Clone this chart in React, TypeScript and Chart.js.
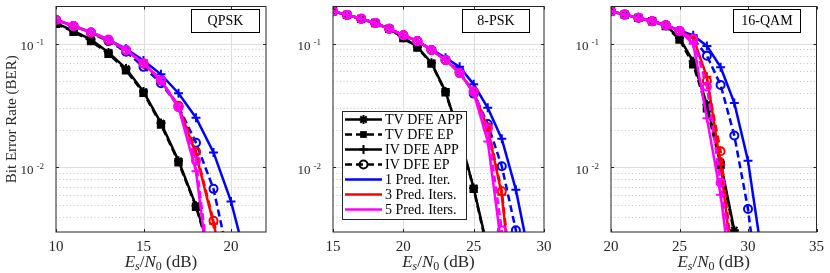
import React, { useEffect, useRef } from 'react';
import { Chart, registerables } from 'chart.js';
Chart.register(...registerables);

const FONT = '"Liberation Serif", "Times New Roman", serif';

// ---------- QPSK ----------
const qpskSnr = [10, 11, 12, 13, 14, 15, 16, 17, 18, 19, 20, 21];
const qpskTvApp = [0.147, 0.127, 0.108, 0.085, 0.063, 0.041, 0.0228, 0.0113, 0.0049, 0.0017, 0.0005];
const qpskTvEp = [0.145, 0.125, 0.105, 0.083, 0.061, 0.04, 0.0222, 0.011, 0.0048, 0.0016, 0.0005];
const qpskIter1App = [0.156, 0.14, 0.124, 0.108, 0.091, 0.073, 0.0565, 0.0398, 0.0252, 0.0132, 0.0053, 0.0015];
const qpskIter1Ep = [0.155, 0.139, 0.122, 0.105, 0.086, 0.065, 0.048, 0.031, 0.0158, 0.0067, 0.0015];
const qpskIter3App = [0.156, 0.139, 0.123, 0.107, 0.089, 0.069, 0.05, 0.031, 0.0128, 0.0035, 0.0009];
const qpskIter3Ep = [0.156, 0.139, 0.123, 0.107, 0.089, 0.069, 0.0505, 0.0315, 0.0134, 0.0037, 0.001];
const qpskIter5App = [0.156, 0.139, 0.124, 0.108, 0.089, 0.0695, 0.0505, 0.0305, 0.0093, 0.0007];
const qpskIter5Ep = [0.156, 0.139, 0.124, 0.108, 0.089, 0.0695, 0.0507, 0.0307, 0.0113, 0.0008];
const qpskXTicks = [10, 15, 20];

// ---------- 8-PSK ----------
const psk8Snr = [15, 16, 17, 18, 19, 20, 21, 22, 23, 24, 25, 26, 27, 28, 29];
const psk8TvApp = [0.183, 0.171, 0.159, 0.147, 0.132, 0.112, 0.094, 0.07, 0.041, 0.018, 0.0068, 0.0022];
const psk8TvEp = [0.183, 0.171, 0.159, 0.147, 0.132, 0.111, 0.093, 0.069, 0.0405, 0.0178, 0.0067, 0.0021];
const psk8Iter1App = [0.183, 0.171, 0.159, 0.147, 0.132, 0.117, 0.105, 0.09, 0.077, 0.065, 0.047, 0.0303, 0.017, 0.0066, 0.0018];
const psk8Iter1Ep = [0.183, 0.171, 0.159, 0.147, 0.132, 0.117, 0.105, 0.089, 0.074, 0.06, 0.0395, 0.0224, 0.0102, 0.0031, 0.0006];
const psk8Iter3App = [0.183, 0.171, 0.159, 0.147, 0.132, 0.117, 0.105, 0.089, 0.074, 0.058, 0.041, 0.0205, 0.006, 0.0005];
const psk8Iter3Ep = [0.183, 0.171, 0.159, 0.147, 0.132, 0.117, 0.105, 0.089, 0.074, 0.058, 0.041, 0.0211, 0.0064, 0.0006];
const psk8Iter5App = [0.183, 0.171, 0.159, 0.147, 0.132, 0.117, 0.105, 0.089, 0.074, 0.058, 0.04, 0.0162, 0.0022, 0.0003];
const psk8Iter5Ep = [0.183, 0.171, 0.159, 0.147, 0.132, 0.117, 0.105, 0.089, 0.074, 0.058, 0.041, 0.0205, 0.0031, 0.0004];
const psk8XTicks = [15, 20, 25, 30];

// ---------- 16-QAM ----------
const qam16Snr = [20, 21, 22, 23, 24, 25, 26, 27, 28, 29, 30, 31];
const qam16TvApp = [0.183, 0.172, 0.162, 0.152, 0.14, 0.111, 0.072, 0.0323, 0.011, 0.0031, 0.0009];
const qam16TvEp = [0.183, 0.172, 0.162, 0.152, 0.139, 0.108, 0.068, 0.03, 0.0105, 0.0029, 0.0008];
const qam16Iter1App = [0.183, 0.172, 0.162, 0.153, 0.142, 0.128, 0.117, 0.096, 0.0646, 0.0332, 0.0113, 0.002];
const qam16Iter1Ep = [0.183, 0.172, 0.162, 0.152, 0.141, 0.127, 0.11, 0.08, 0.0464, 0.0181, 0.0046, 0.0006];
const qam16Iter3App = [0.183, 0.172, 0.162, 0.152, 0.141, 0.127, 0.112, 0.054, 0.0105, 0.0012];
const qam16Iter3Ep = [0.183, 0.172, 0.162, 0.152, 0.141, 0.127, 0.109, 0.05, 0.0135, 0.0013];
const qam16Iter5App = [0.183, 0.172, 0.162, 0.152, 0.141, 0.127, 0.1, 0.025, 0.006, 0.0008];
const qam16Iter5Ep = [0.183, 0.172, 0.162, 0.152, 0.141, 0.127, 0.109, 0.045, 0.0075, 0.0013];
const qam16XTicks = [20, 25, 30, 35];

const yDecades = [0.1, 0.01];
const yMin = 0.003;
const yMax = 0.2;

const legendLabels = ['TV DFE APP', 'TV DFE EP', 'IV DFE APP', 'IV DFE EP', '1 Pred. Iter.', '3 Pred. Iters.', '5 Pred. Iters.'];

const BLACK = '#000000';
const BLUE = '#0000ff';
const RED = '#ff0000';
const MAGENTA = '#ff00ff';

const LINE_W = 2.5;
const MARK_R = 4.5;

type Marker = 'star' | 'rect' | 'cross' | 'circle';

function series(label: string, snr: number[], vals: number[], color: string, dashed: boolean, marker: Marker) {
  return {
    label,
    data: vals.map((v, i) => ({ x: snr[i], y: v })),
    borderColor: color,
    backgroundColor: color,
    borderWidth: LINE_W,
    borderDash: dashed ? [7, 4] : [],
    pointStyle: marker,
    pointRadius: marker === 'circle' ? 4 : MARK_R,
    pointBorderWidth: 2,
    pointBorderColor: color,
    pointBackgroundColor: marker === 'rect' ? color : 'rgba(0,0,0,0)',
    tension: 0,
    fill: false,
  };
}

type PanelDef = {
  name: string;
  snr: number[];
  tvApp: number[];
  tvEp: number[];
  i1App: number[];
  i1Ep: number[];
  i3App: number[];
  i3Ep: number[];
  i5App: number[];
  i5Ep: number[];
  xMin: number;
  xMax: number;
  xTicks: number[];
  left: number;
  width: number;
  axisLeft: number;
  padRight: number;
  titleBoxLeft: number;
  titleBoxWidth: number;
  showLegend: boolean;
  showYTitle: boolean;
};

const panels: PanelDef[] = [
  {
    name: 'QPSK', snr: qpskSnr, tvApp: qpskTvApp, tvEp: qpskTvEp, i1App: qpskIter1App, i1Ep: qpskIter1Ep,
    i3App: qpskIter3App, i3Ep: qpskIter3Ep, i5App: qpskIter5App, i5Ep: qpskIter5Ep,
    xMin: 10, xMax: 22, xTicks: qpskXTicks, left: 0, width: 280, axisLeft: 56, padRight: 14,
    titleBoxLeft: 135, titleBoxWidth: 68, showLegend: false, showYTitle: true,
  },
  {
    name: '8-PSK', snr: psk8Snr, tvApp: psk8TvApp, tvEp: psk8TvEp, i1App: psk8Iter1App, i1Ep: psk8Iter1Ep,
    i3App: psk8Iter3App, i3Ep: psk8Iter3Ep, i5App: psk8Iter5App, i5Ep: psk8Iter5Ep,
    xMin: 15, xMax: 30, xTicks: psk8XTicks, left: 280, width: 280, axisLeft: 53, padRight: 16,
    titleBoxLeft: 129, titleBoxWidth: 67, showLegend: true, showYTitle: false,
  },
  {
    name: '16-QAM', snr: qam16Snr, tvApp: qam16TvApp, tvEp: qam16TvEp, i1App: qam16Iter1App, i1Ep: qam16Iter1Ep,
    i3App: qam16Iter3App, i3Ep: qam16Iter3Ep, i5App: qam16Iter5App, i5Ep: qam16Iter5Ep,
    xMin: 20, xMax: 35, xTicks: qam16XTicks, left: 560, width: 270, axisLeft: 51, padRight: 8,
    titleBoxLeft: 122, titleBoxWidth: 67, showLegend: false, showYTitle: false,
  },
];

function drawMarker(ctx: CanvasRenderingContext2D, style: Marker, x: number, y: number, r: number, color: string) {
  ctx.save();
  ctx.setLineDash([]);
  ctx.strokeStyle = color;
  ctx.fillStyle = color;
  ctx.lineWidth = 2;
  ctx.beginPath();
  if (style === 'circle') {
    ctx.arc(x, y, r, 0, Math.PI * 2);
    ctx.stroke();
  } else if (style === 'rect') {
    const s = r * 0.75;
    ctx.fillRect(x - s, y - s, 2 * s, 2 * s);
  } else {
    ctx.moveTo(x - r, y); ctx.lineTo(x + r, y);
    ctx.moveTo(x, y - r); ctx.lineTo(x, y + r);
    if (style === 'star') {
      const d = r * 0.7071;
      ctx.moveTo(x - d, y - d); ctx.lineTo(x + d, y + d);
      ctx.moveTo(x - d, y + d); ctx.lineTo(x + d, y - d);
    }
    ctx.stroke();
  }
  ctx.restore();
}

function minorValues(): number[] {
  const out: number[] = [];
  for (let k = -3; k <= -1; k++) {
    for (let m = 2; m <= 9; m++) {
      const v = m * Math.pow(10, k);
      if (v > yMin && v < yMax) out.push(v);
    }
  }
  return out;
}

function makePlugin(p: PanelDef) {
  return {
    id: 'matlabStyle',
    beforeDatasetsDraw(chart: any) {
      const { ctx, chartArea: a, scales } = chart;
      const xs = scales.x, ys = scales.y;
      ctx.save();
      ctx.lineWidth = 1;
      ctx.strokeStyle = '#c6c6c6';
      ctx.setLineDash([1, 2.5]);
      for (const v of minorValues()) {
        const y = Math.round(ys.getPixelForValue(v)) + 0.5;
        ctx.beginPath(); ctx.moveTo(a.left, y); ctx.lineTo(a.right, y); ctx.stroke();
      }
      ctx.setLineDash([]);
      ctx.strokeStyle = '#dedede';
      for (const v of yDecades) {
        const y = Math.round(ys.getPixelForValue(v)) + 0.5;
        ctx.beginPath(); ctx.moveTo(a.left, y); ctx.lineTo(a.right, y); ctx.stroke();
      }
      for (const v of p.xTicks) {
        const x = Math.round(xs.getPixelForValue(v)) + 0.5;
        if (x <= a.left + 1 || x >= a.right - 1) continue;
        ctx.beginPath(); ctx.moveTo(x, a.top); ctx.lineTo(x, a.bottom); ctx.stroke();
      }
      ctx.restore();
    },
    afterDatasetsDraw(chart: any) {
      const { ctx, chartArea: a, scales } = chart;
      const xs = scales.x, ys = scales.y;
      ctx.save();
      ctx.strokeStyle = '#262626';
      ctx.lineWidth = 1;
      ctx.setLineDash([]);
      ctx.strokeRect(a.left, a.top, a.right - a.left, a.bottom - a.top);
      ctx.beginPath();
      for (const v of p.xTicks) {
        const x = Math.round(xs.getPixelForValue(v)) + 0.5;
        ctx.moveTo(x, a.bottom); ctx.lineTo(x, a.bottom - 3);
        ctx.moveTo(x, a.top); ctx.lineTo(x, a.top + 3);
      }
      for (const v of yDecades) {
        const y = Math.round(ys.getPixelForValue(v)) + 0.5;
        ctx.moveTo(a.left, y); ctx.lineTo(a.left + 3, y);
        ctx.moveTo(a.right, y); ctx.lineTo(a.right - 3, y);
      }
      ctx.stroke();

      const bx = a.left + p.titleBoxLeft, by = 9, bw = p.titleBoxWidth, bh = 23;
      ctx.fillStyle = '#ffffff';
      ctx.fillRect(bx, by, bw, bh);
      ctx.strokeStyle = '#000000';
      ctx.strokeRect(bx + 0.5, by + 0.5, bw, bh);
      ctx.fillStyle = '#000000';
      ctx.font = `14px ${FONT}`;
      ctx.textAlign = 'center';
      ctx.textBaseline = 'middle';
      ctx.fillText(p.name, bx + bw / 2 + 0.5, by + bh / 2 + 1);

      if (p.showLegend) {
        const lx = a.left + 9, ly = 111, lw = 124, lh = 108;
        ctx.fillStyle = '#ffffff';
        ctx.fillRect(lx, ly, lw, lh);
        ctx.strokeStyle = '#262626';
        ctx.strokeRect(lx + 0.5, ly + 0.5, lw, lh);
        const colors = [BLACK, BLACK, BLACK, BLACK, BLUE, RED, MAGENTA];
        const dashes = [false, true, false, true, false, false, false];
        const markers: (Marker | null)[] = ['star', 'rect', 'cross', 'circle', null, null, null];
        for (let i = 0; i < legendLabels.length; i++) {
          const cy = ly + 8.5 + i * 15;
          ctx.save();
          ctx.strokeStyle = colors[i];
          ctx.lineWidth = LINE_W;
          ctx.setLineDash(dashes[i] ? [7, 4] : []);
          ctx.beginPath();
          ctx.moveTo(lx + 3, cy); ctx.lineTo(lx + 40, cy);
          ctx.stroke();
          ctx.restore();
          const m = markers[i];
          if (m) drawMarker(ctx, m, lx + 21.5, cy, m === 'circle' ? 4 : MARK_R, colors[i]);
          ctx.fillStyle = '#000000';
          ctx.font = `14px ${FONT}`;
          ctx.textAlign = 'left';
          ctx.textBaseline = 'middle';
          ctx.fillText(legendLabels[i], lx + 43, cy + 0.5);
        }
      }
      ctx.restore();
    },
    afterDraw(chart: any) {
      const { ctx, chartArea: a, scales } = chart;
      const ys = scales.y;
      ctx.save();
      ctx.fillStyle = '#262626';
      for (const v of yDecades) {
        const y = ys.getPixelForValue(v);
        const exp = String(Math.round(Math.log10(v)));
        ctx.font = `9px ${FONT}`;
        ctx.textAlign = 'right';
        ctx.textBaseline = 'alphabetic';
        const supRight = a.left - 12;
        ctx.fillText(exp, supRight, y + 1.5);
        const supW = ctx.measureText(exp).width;
        ctx.font = `13px ${FONT}`;
        ctx.fillText('10', supRight - supW - 3, y + 6.5);
      }
      const parts = [
        { t: 'E', f: `italic 17px ${FONT}`, dy: 0 },
        { t: 's', f: `italic 12px ${FONT}`, dy: 3 },
        { t: '/', f: `17px ${FONT}`, dy: 0 },
        { t: 'N', f: `italic 17px ${FONT}`, dy: 0 },
        { t: '0', f: `12px ${FONT}`, dy: 3 },
        { t: ' (dB)', f: `17px ${FONT}`, dy: 0 },
      ];
      let total = 0;
      const widths = parts.map((pt) => { ctx.font = pt.f; const w = ctx.measureText(pt.t).width; total += w; return w; });
      let x = (a.left + a.right) / 2 - total / 2;
      ctx.textAlign = 'left';
      ctx.textBaseline = 'alphabetic';
      parts.forEach((pt, i) => {
        ctx.font = pt.f;
        ctx.fillText(pt.t, x, 267 + pt.dy);
        x += widths[i];
      });
      if (p.showYTitle) {
        ctx.translate(12, (a.top + a.bottom) / 2);
        ctx.rotate(-Math.PI / 2);
        ctx.font = `15px ${FONT}`;
        ctx.textAlign = 'center';
        ctx.textBaseline = 'middle';
        ctx.fillText('Bit Error Rate (BER)', 0, 0);
      }
      ctx.restore();
    },
  };
}

function Panel({ p }: { p: PanelDef }) {
  const ref = useRef<HTMLCanvasElement>(null);
  useEffect(() => {
    const datasets = [
      series('5 Pred. Iters. EP', p.snr, p.i5Ep, MAGENTA, true, 'circle'),
      series('5 Pred. Iters. APP', p.snr, p.i5App, MAGENTA, false, 'cross'),
      series('3 Pred. Iters. EP', p.snr, p.i3Ep, RED, true, 'circle'),
      series('3 Pred. Iters. APP', p.snr, p.i3App, RED, false, 'cross'),
      series('1 Pred. Iter. EP', p.snr, p.i1Ep, BLUE, true, 'circle'),
      series('1 Pred. Iter. APP', p.snr, p.i1App, BLUE, false, 'cross'),
      series('TV DFE EP', p.snr, p.tvEp, BLACK, true, 'rect'),
      series('TV DFE APP', p.snr, p.tvApp, BLACK, false, 'star'),
    ];
    const chart = new Chart(ref.current as HTMLCanvasElement, {
      type: 'line',
      data: { datasets: datasets as any },
      options: {
        animation: false,
        responsive: false,
        devicePixelRatio: 1,
        layout: { padding: { top: 1, right: p.padRight, left: 0, bottom: 0 } },
        plugins: { legend: { display: false }, tooltip: { enabled: false }, title: { display: false } },
        scales: {
          x: {
            type: 'linear',
            min: p.xMin,
            max: p.xMax,
            grid: { display: false, drawTicks: false },
            border: { display: false },
            ticks: { font: { family: FONT, size: 15 }, color: '#262626', padding: 6, maxRotation: 0 },
            afterBuildTicks: (scale: any) => { scale.ticks = p.xTicks.map((v) => ({ value: v })); },
            afterFit: (scale: any) => { scale.height = 41; },
          },
          y: {
            type: 'logarithmic',
            min: yMin,
            max: yMax,
            grid: { display: false, drawTicks: false },
            border: { display: false },
            ticks: { display: false },
            afterFit: (scale: any) => { scale.width = p.axisLeft; },
          },
        },
      } as any,
      plugins: [makePlugin(p) as any],
    });
    return () => chart.destroy();
  }, []);
  return (
    <div style={{ position: 'absolute', left: p.left, top: 0, width: p.width, height: 273 }}>
      <canvas ref={ref} width={p.width} height={273} style={{ display: 'block', width: p.width, height: 273 }} />
    </div>
  );
}

export default function App() {
  return (
    <div style={{ position: 'absolute', left: 0, top: 0, width: 830, height: 273, background: '#ffffff', overflow: 'hidden' }}>
      {panels.map((p) => <Panel key={p.name} p={p} />)}
    </div>
  );
}
